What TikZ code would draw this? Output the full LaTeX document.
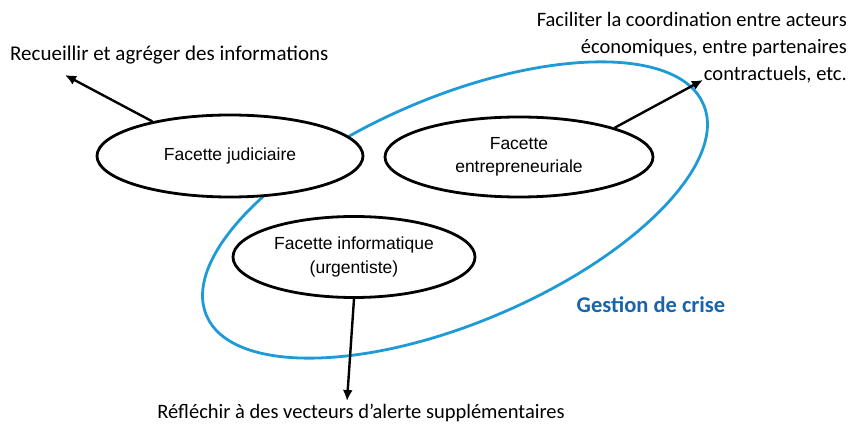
\documentclass[tikz,border=0pt]{standalone}
\usepackage{fontspec}
\setmainfont{Carlito}
\newfontfamily\arialfont{Liberation Sans}
\usepackage{tikz}
\usetikzlibrary{arrows.meta,shapes.geometric}
\definecolor{crisisblue}{RGB}{30,155,215}
\definecolor{crisistext}{RGB}{25,100,170}

\begin{document}
\begin{tikzpicture}[
  x=1pt,y=-1pt,
  fnode/.style={draw,ellipse,line width=2.8pt,inner sep=0pt,font=\arialfont\fontsize{17.5}{23.5}\selectfont,align=center},
  tnode/.style={font=\fontsize{20.5}{27}\selectfont,inner sep=0pt},
  arr/.style={line width=2.4pt,-{Latex[length=11pt,width=10pt]}}
]
  \useasboundingbox (0,0) rectangle (859,427);

  % crisis management zone
  \draw[crisisblue,line width=2.8pt,rotate around={23:(455,210)}] (455,210) ellipse [x radius=270pt,y radius=113pt];
  \node[tnode,font=\bfseries\fontsize{22.5}{26}\selectfont,text=crisistext] (gestion) at (651,305) {Gestion de crise};

  % facets
  \node[fnode,fill=white,minimum width=266pt,minimum height=82pt] (jud) at (230,156) {Facette judiciaire};
  \node[fnode,fill=white,minimum width=268pt,minimum height=80pt] (entr) at (519,157) {Facette\\entrepreneuriale};
  \node[fnode,fill=white,minimum width=242pt,minimum height=81pt] (info) at (354,257) {Facette informatique\\(urgentiste)};

  % goals
  \node[tnode,font=\fontsize{21}{27}\selectfont,anchor=west] (recueil) at (10,55) {Recueillir et agréger des informations};
  \node[tnode,anchor=east,align=right] (faciliter) at (847,48) {Faciliter la coordination entre acteurs\\économiques, entre partenaires\\contractuels, etc.};
  \node[tnode] (reflechir) at (361,413) {Réfléchir à des vecteurs d’alerte supplémentaires};

  % arrow ends
  \coordinate (recEnd) at (65,75);
  \coordinate (facEnd) at (703,80);
  \coordinate (refEnd) at (347,401);

  % edges
  \draw[arr] (jud.156) -- (recEnd);
  \draw[arr] (entr.17) -- (facEnd);
  \draw[arr] (info.south) -- (refEnd);
\end{tikzpicture}
\end{document}
